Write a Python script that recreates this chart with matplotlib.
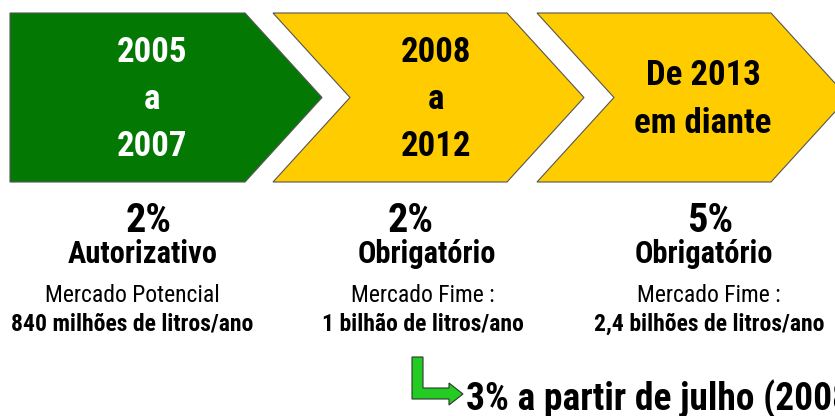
import matplotlib
matplotlib.use("Agg")
import matplotlib.pyplot as plt
from matplotlib.patches import Polygon
from matplotlib import font_manager

# ---- data ----
periods = ["2005\na\n2007", "2008\na\n2012", "De 2013\nem diante"]
percentages = ["2%", "2%", "5%"]
regimes = ["Autorizativo", "Obrigatório", "Obrigatório"]
market_labels = ["Mercado Potencial", "Mercado Fime :", "Mercado Fime :"]
market_values = ["840 milhões de litros/ano", "1 bilhão de litros/ano",
                 "2,4 bilhões de litros/ano"]
note = "3% a partir de julho (2008)"

# ---- style ----
names = {f.name for f in font_manager.fontManager.ttflist}
FONT = "Liberation Sans"
for cand in ["Nimbus Sans Narrow", "Liberation Sans Narrow", "Arial Narrow",
             "Roboto Condensed", "Archivo Narrow", "PT Sans Narrow",
             "Pragati Narrow", "Asap Condensed"]:
    if cand in names:
        FONT = cand
        break

W, H = 835, 416
fig = plt.figure(figsize=(W / 100, H / 100), dpi=100)
ax = fig.add_axes([0, 0, 1, 1])
ax.set_xlim(0, W)
ax.set_ylim(H, 0)
ax.axis("off")

shape_colors = ["#037903", "#FFCC00", "#FFCC00"]
text_colors = ["white", "black", "black"]
lefts = [10, 273, 537]
rights = [245, 507, 771]
depth = 77
top, bot = 13, 182
mid = (top + bot) / 2
period_cx = [152, 436, 703]

for i in range(3):
    l, r = lefts[i], rights[i]
    if i == 0:
        pts = [(l, top), (r, top), (r + depth, mid), (r, bot), (l, bot)]
    else:
        pts = [(l, top), (r, top), (r + depth, mid), (r, bot), (l, bot), (l + depth, mid)]
    ax.add_patch(Polygon(pts, closed=True, facecolor=shape_colors[i],
                         edgecolor="#555555", linewidth=0.8, zorder=1))
    ax.text(period_cx[i], mid + 2, periods[i], ha="center", va="center",
            fontsize=25, fontweight="bold", family=FONT, color=text_colors[i],
            linespacing=1.55, zorder=2)

pct_x = [149, 411, 710]
reg_x = [143, 427, 704]
mkt_x = [132, 423, 709]
for i in range(3):
    ax.text(pct_x[i], 232, percentages[i], ha="center", va="baseline",
            fontsize=29, fontweight="bold", family=FONT, color="black")
    ax.text(reg_x[i], 263, regimes[i], ha="center", va="baseline",
            fontsize=22, fontweight="bold", family=FONT, color="black")
    ax.text(mkt_x[i], 302, market_labels[i], ha="center", va="baseline",
            fontsize=17, family=FONT, color="black")
    ax.text(mkt_x[i], 331, market_values[i], ha="center", va="baseline",
            fontsize=17, fontweight="bold", family=FONT, color="black")

# green L-shaped arrow
arrow = [(412, 357), (423, 357), (423, 388), (449, 388), (449, 383),
         (463, 394), (449, 405), (449, 399), (412, 399)]
ax.add_patch(Polygon(arrow, closed=True, facecolor="#22CC22",
                     edgecolor="#333333", linewidth=0.8, zorder=3))
ax.text(466, 410, note, ha="left", va="baseline", fontsize=27,
        fontweight="bold", family=FONT, color="black", clip_on=False)

fig.savefig("out.png", dpi=100)
